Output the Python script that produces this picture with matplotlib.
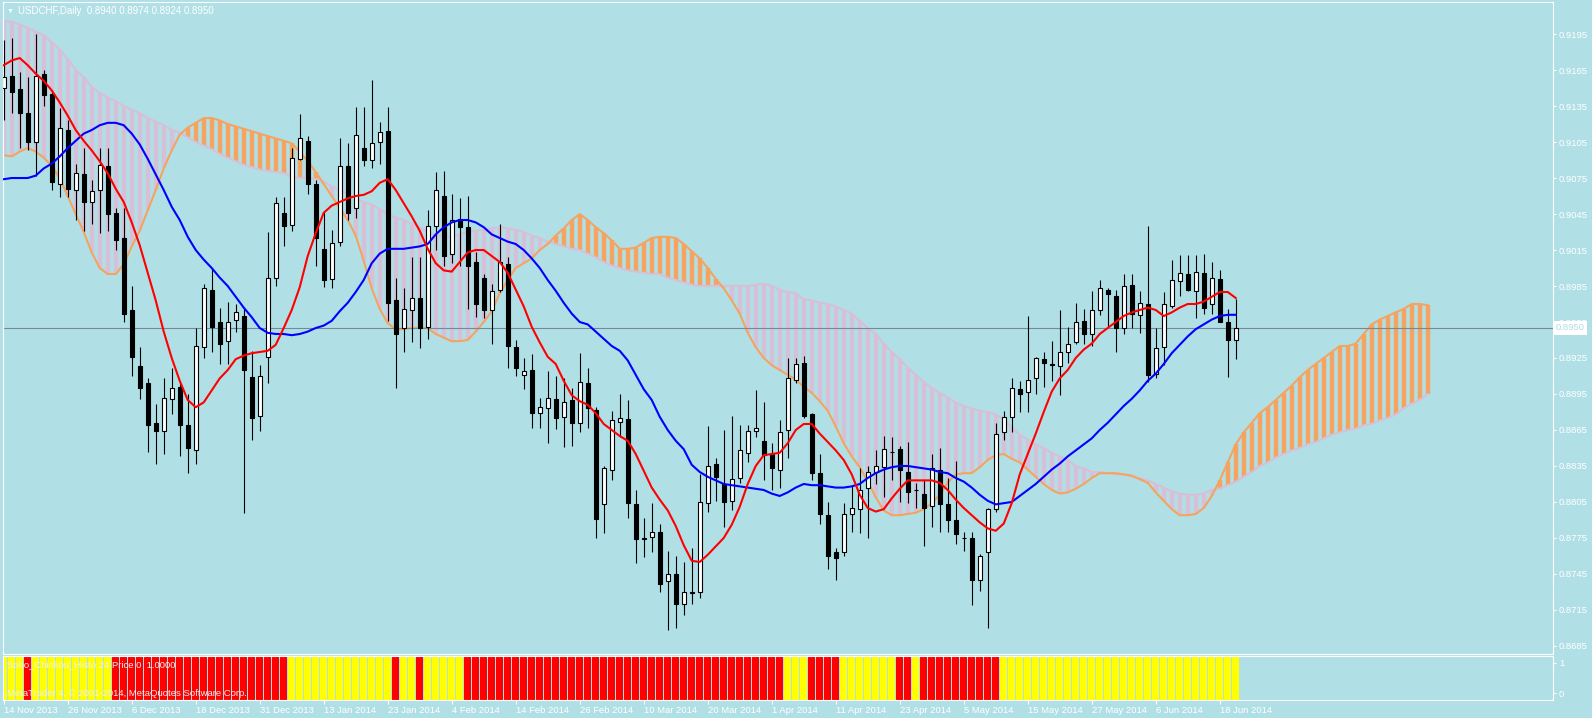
import numpy as np
import matplotlib.pyplot as plt
from matplotlib.transforms import blended_transform_factory

plt.rcParams['font.family'] = ['Liberation Sans', 'DejaVu Sans']

# USDCHF daily, prices in points (1 pt = 0.0001)
open_pts = [
    9150, 9160, 9149, 9129, 9105, 9162, 9145, 9070, 9115, 9065,
    9078, 9055, 9065, 9085, 9046, 9025, 8965, 8918, 8904, 8871,
    8864, 8891, 8901, 8869, 8848, 8934, 8982, 8955, 8939, 8957,
    8960, 8909, 8877, 8926, 8992, 9046, 9036, 9091, 9106, 9070,
    9016, 8991, 9022, 9085, 9050, 9100, 9090, 9105, 9114, 8973,
    8950, 8965, 8975, 8951, 9035, 9060, 9012, 9041, 9034, 9005,
    8992, 8965, 8982, 9003, 8934, 8911, 8915, 8879, 8883, 8891,
    8876, 8890, 8871, 8904, 8882, 8803, 8832, 8872, 8874, 8803,
    8774, 8776, 8780, 8739, 8745, 8720, 8730, 8730, 8804, 8837,
    8820, 8806, 8825, 8846, 8864, 8856, 8845, 8832, 8865, 8907,
    8921, 8878, 8829, 8794, 8763, 8763, 8795, 8799, 8817, 8830,
    8834, 8847, 8849, 8830, 8815, 8812, 8802, 8832, 8803, 8790,
    8775, 8775, 8740, 8763, 8799, 8863, 8876, 8899, 8897, 8908,
    8924, 8920, 8918, 8930, 8938, 8956, 8945, 8965, 8982, 8977,
    8950, 8986, 8961, 8970, 8912, 8934, 8968, 8989, 8995, 8981,
    8996, 8970, 8991, 8955, 8940]
high_pts = [
    9190, 9192, 9163, 9159, 9195, 9165, 9148, 9133, 9123, 9087,
    9100, 9073, 9100, 9100, 9050, 9050, 8985, 8934, 8908, 8887,
    8908, 8917, 8906, 8895, 8950, 8987, 9000, 8967, 8972, 8970,
    8967, 8931, 8919, 9030, 9059, 9059, 9100, 9128, 9110, 9073,
    9047, 9032, 9108, 9104, 9134, 9134, 9157, 9122, 9134, 8992,
    8983, 9009, 9009, 9048, 9080, 9081, 9062, 9058, 9060, 9013,
    8995, 8987, 9037, 9009, 8940, 8925, 8928, 8892, 8914, 8910,
    8908, 8900, 8929, 8917, 8884, 8835, 8881, 8895, 8890, 8815,
    8792, 8804, 8787, 8764, 8760, 8755, 8767, 8828, 8868, 8842,
    8865, 8877, 8869, 8869, 8898, 8888, 8854, 8873, 8925, 8925,
    8927, 8879, 8845, 8805, 8767, 8804, 8819, 8833, 8835, 8848,
    8860, 8859, 8852, 8855, 8821, 8823, 8845, 8850, 8825, 8839,
    8780, 8780, 8762, 8800, 8871, 8881, 8908, 8906, 8960, 8926,
    8930, 8939, 8965, 8951, 8971, 8966, 8981, 8990, 8983, 8982,
    8995, 8995, 8981, 9035, 8950, 8980, 9007, 9011, 9011, 9011,
    9012, 9005, 8998, 8966, 8974]
low_pts = [
    9123, 9129, 9100, 9098, 9077, 9135, 9065, 9059, 9059, 9040,
    9031, 9037, 9029, 9031, 9015, 8955, 8910, 8891, 8847, 8837,
    8845, 8878, 8843, 8829, 8837, 8925, 8930, 8920, 8920, 8947,
    8796, 8857, 8864, 8904, 8985, 9018, 9031, 9090, 9062, 9002,
    8984, 8983, 9018, 9040, 9042, 9085, 9083, 9087, 8956, 8900,
    8930, 8938, 8933, 8941, 9015, 9002, 9004, 9002, 8966, 8959,
    8958, 8937, 8980, 8917, 8910, 8899, 8867, 8867, 8854, 8866,
    8851, 8852, 8863, 8867, 8775, 8779, 8823, 8859, 8792, 8754,
    8759, 8763, 8730, 8698, 8700, 8711, 8720, 8725, 8797, 8806,
    8784, 8798, 8821, 8838, 8859, 8823, 8815, 8817, 8842, 8904,
    8875, 8823, 8787, 8749, 8740, 8760, 8780, 8779, 8775, 8820,
    8809, 8823, 8805, 8804, 8800, 8768, 8784, 8780, 8780, 8770,
    8764, 8719, 8731, 8700, 8797, 8857, 8863, 8880, 8880, 8895,
    8901, 8906, 8894, 8921, 8937, 8937, 8935, 8961, 8952, 8930,
    8945, 8950, 8946, 8905, 8908, 8919, 8967, 8977, 8981, 8958,
    8962, 8962, 8955, 8909, 8924]
close_pts = [
    9159, 9147, 9129, 9105, 9160, 9144, 9072, 9117, 9066, 9079,
    9055, 9064, 9086, 9045, 9023, 8962, 8926, 8900, 8869, 8864,
    8892, 8900, 8869, 8850, 8935, 8983, 8951, 8937, 8955, 8963,
    8915, 8875, 8910, 8992, 9054, 9035, 9092, 9108, 9070, 9025,
    8990, 9021, 9085, 9046, 9111, 9090, 9104, 9113, 8971, 8945,
    8966, 8975, 8950, 9035, 9065, 9010, 9040, 9034, 9002, 8970,
    8965, 8981, 9005, 8935, 8917, 8914, 8879, 8884, 8892, 8875,
    8888, 8871, 8905, 8883, 8791, 8833, 8873, 8875, 8804, 8774,
    8775, 8780, 8737, 8745, 8720, 8730, 8729, 8805, 8835, 8826,
    8805, 8824, 8848, 8864, 8867, 8844, 8833, 8863, 8908, 8920,
    8877, 8829, 8795, 8760, 8758, 8795, 8800, 8815, 8830, 8835,
    8849, 8847, 8832, 8813, 8815, 8800, 8833, 8803, 8790, 8778,
    8775, 8740, 8760, 8799, 8862, 8876, 8900, 8895, 8907, 8925,
    8921, 8919, 8930, 8937, 8955, 8945, 8965, 8983, 8978, 8950,
    8985, 8962, 8971, 8911, 8933, 8970, 8990, 8996, 8982, 8997,
    8967, 8992, 8955, 8940, 8950]

# Ichimoku lines (points)
tenkan_pts = [
    9169, 9173, 9175, 9169, 9162, 9156, 9148, 9138, 9127, 9115,
    9106, 9098, 9089, 9079, 9066, 9055, 9038, 9019, 8996, 8973,
    8947, 8925, 8906, 8890, 8884, 8888, 8898, 8908, 8915, 8924,
    8927, 8929, 8930, 8931, 8936, 8950, 8965, 8984, 9010, 9029,
    9046, 9052, 9055, 9058, 9060, 9061, 9064, 9071, 9074, 9065,
    9054, 9043, 9031, 9016, 9004, 8998, 8997, 9005, 9013, 9015,
    9015, 9010, 9005, 8996, 8982, 8968, 8951, 8938, 8926, 8920,
    8906, 8894, 8889, 8886, 8879, 8870, 8865, 8860, 8856, 8845,
    8831, 8817, 8807, 8798, 8785, 8769, 8756, 8755, 8761, 8768,
    8775, 8786, 8801, 8820, 8835, 8844, 8845, 8846, 8854, 8865,
    8870, 8870, 8862, 8855, 8848, 8840, 8828, 8811, 8800, 8797,
    8799, 8808, 8816, 8823, 8823, 8823, 8823, 8821, 8815, 8807,
    8800, 8794, 8788, 8783, 8781, 8787, 8804, 8828, 8845, 8862,
    8880, 8897, 8908, 8915, 8925, 8932, 8937, 8945, 8950, 8955,
    8960, 8963, 8965, 8967, 8965, 8960, 8963, 8967, 8970, 8970,
    8972, 8976, 8980, 8980, 8975]
kijun_pts = [
    9074, 9075, 9075, 9075, 9077, 9083, 9087, 9093, 9100, 9106,
    9112, 9115, 9119, 9121, 9121, 9119, 9112, 9103, 9091, 9078,
    9065, 9051, 9040, 9026, 9015, 9007, 9000, 8992, 8985, 8976,
    8967, 8959, 8950, 8946, 8945, 8945, 8944, 8945, 8947, 8950,
    8952, 8956, 8964, 8971, 8980, 8990, 9004, 9012, 9016, 9016,
    9016, 9017, 9018, 9020, 9028, 9034, 9038, 9040, 9040, 9038,
    9034, 9028, 9025, 9022, 9020, 9015, 9008, 9000, 8990, 8981,
    8971, 8962, 8955, 8953, 8947, 8941, 8935, 8931, 8923, 8911,
    8899, 8890, 8876, 8865, 8856, 8849, 8836, 8830, 8826, 8823,
    8820, 8819, 8818, 8817, 8816, 8815, 8812, 8810, 8813, 8817,
    8820, 8819, 8819, 8818, 8817, 8817, 8818, 8820, 8825, 8829,
    8832, 8834, 8835, 8835, 8834, 8833, 8832, 8830, 8829, 8825,
    8822, 8817, 8811, 8806, 8803, 8804, 8805, 8810, 8815, 8820,
    8826, 8832, 8837, 8843, 8848, 8853, 8858, 8865, 8871, 8878,
    8885, 8891, 8898, 8906, 8912, 8920, 8929, 8936, 8943, 8949,
    8953, 8957, 8960, 8961, 8961]
# senkou spans run 24 bars past the last candle
span_a_pts = [
    9094, 9093, 9097, 9100, 9097, 9092, 9085, 9075, 9060, 9045,
    9030, 9013, 9000, 8995, 8995, 9003, 9018, 9031, 9048, 9065,
    9083, 9098, 9111, 9117, 9121, 9125, 9125, 9123, 9120, 9118,
    9116, 9114, 9112, 9110, 9108, 9106, 9104, 9097, 9089, 9080,
    9070, 9060, 9050, 9040, 9027, 9006, 8983, 8966, 8954, 8949,
    8949, 8950, 8950, 8950, 8945, 8942, 8939, 8939, 8940, 8947,
    8955, 8964, 8979, 8990, 9000, 9004, 9008, 9015, 9020, 9027,
    9033, 9040, 9045, 9040, 9034, 9029, 9023, 9016, 9016, 9017,
    9021, 9025, 9026, 9026, 9025, 9020, 9014, 9008, 9000, 8991,
    8983, 8973, 8962, 8946, 8934, 8925, 8919, 8915, 8911, 8907,
    8901, 8896, 8889, 8881, 8868, 8854, 8843, 8834, 8822, 8809,
    8798, 8794, 8794, 8795, 8796, 8799, 8804, 8811, 8821, 8828,
    8829, 8829, 8834, 8840, 8844, 8845, 8841, 8838, 8832, 8826,
    8820, 8815, 8812, 8813, 8816, 8820, 8825, 8829, 8829, 8829,
    8828, 8827, 8824, 8821, 8813, 8806, 8799, 8794, 8794, 8795,
    8800, 8810, 8823, 8838, 8853, 8863, 8871, 8879, 8884, 8890,
    8896, 8902, 8909, 8915, 8920, 8925, 8930, 8935, 8935, 8937,
    8945, 8953, 8957, 8960, 8963, 8966, 8970, 8970, 8969]
span_b_pts = [
    9206, 9205, 9203, 9200, 9197, 9194, 9188, 9182, 9174, 9165,
    9159, 9151, 9146, 9142, 9139, 9135, 9132, 9129, 9125, 9122,
    9119, 9115, 9113, 9109, 9105, 9102, 9099, 9095, 9092, 9089,
    9086, 9084, 9082, 9081, 9080, 9079, 9076, 9075, 9075, 9074,
    9072, 9068, 9065, 9062, 9058, 9055, 9053, 9049, 9045, 9042,
    9040, 9037, 9034, 9030, 9028, 9026, 9026, 9028, 9030, 9031,
    9032, 9033, 9034, 9033, 9032, 9030, 9027, 9025, 9022, 9020,
    9018, 9016, 9015, 9012, 9009, 9005, 9002, 9000, 8998, 8997,
    8996, 8995, 8995, 8992, 8990, 8988, 8986, 8985, 8985, 8985,
    8985, 8985, 8985, 8985, 8986, 8987, 8985, 8982, 8980, 8979,
    8974, 8973, 8971, 8970, 8968, 8965, 8962, 8956, 8950, 8945,
    8937, 8930, 8924, 8917, 8911, 8905, 8900, 8896, 8892, 8888,
    8885, 8883, 8881, 8880, 8878, 8874, 8867, 8861, 8857, 8853,
    8850, 8846, 8843, 8840, 8835, 8833, 8830, 8830, 8829, 8828,
    8828, 8826, 8825, 8823, 8820, 8817, 8814, 8812, 8811, 8811,
    8812, 8815, 8816, 8819, 8822, 8826, 8830, 8835, 8838, 8842,
    8845, 8848, 8850, 8853, 8855, 8858, 8861, 8863, 8865, 8866,
    8869, 8870, 8873, 8875, 8878, 8883, 8887, 8890, 8895]

# Soho_Chinkou_Histo: 1 = yellow, 0 = red
chinkou_state = [
    1, 1, 1, 0, 1, 1, 1, 1, 1, 1,
    1, 1, 1, 1, 0, 0, 0, 0, 0, 0,
    0, 0, 0, 0, 0, 0, 0, 0, 0, 0,
    0, 0, 0, 0, 0, 0, 1, 1, 1, 1,
    1, 1, 1, 1, 1, 1, 1, 1, 1, 0,
    1, 1, 0, 1, 1, 1, 1, 1, 0, 0,
    0, 0, 0, 0, 0, 0, 0, 0, 0, 0,
    0, 0, 0, 0, 0, 0, 0, 0, 0, 0,
    0, 0, 0, 0, 0, 0, 0, 0, 0, 0,
    0, 0, 0, 0, 0, 0, 0, 0, 1, 1,
    1, 0, 0, 0, 0, 1, 1, 1, 1, 1,
    1, 1, 0, 0, 1, 0, 0, 0, 0, 0,
    0, 0, 0, 0, 0, 1, 1, 1, 1, 1,
    1, 1, 1, 1, 1, 1, 1, 1, 1, 1,
    1, 1, 1, 1, 1, 1, 1, 1, 1, 1,
    1, 1, 1, 1, 1]

date_idx = [0, 8, 16, 24, 32, 40, 48, 56, 64, 72, 80, 88, 96, 104, 112,
            120, 128, 136, 144, 152]
date_labels = ['14 Nov 2013', '26 Nov 2013', '6 Dec 2013', '18 Dec 2013',
               '31 Dec 2013', '13 Jan 2014', '23 Jan 2014', '4 Feb 2014',
               '14 Feb 2014', '26 Feb 2014', '10 Mar 2014', '20 Mar 2014',
               '1 Apr 2014', '11 Apr 2014', '23 Apr 2014', '5 May 2014',
               '15 May 2014', '27 May 2014', '6 Jun 2014', '18 Jun 2014']
price_ticks = [0.9195, 0.9165, 0.9135, 0.9105, 0.9075, 0.9045, 0.9015,
               0.8985, 0.8955, 0.8925, 0.8895, 0.8865, 0.8835, 0.8805,
               0.8775, 0.8745, 0.8715, 0.8685]

opens = np.array(open_pts) / 10000
highs = np.array(high_pts) / 10000
lows = np.array(low_pts) / 10000
closes = np.array(close_pts) / 10000
tenkan = np.array(tenkan_pts) / 10000
kijun = np.array(kijun_pts) / 10000
span_a = np.array(span_a_pts) / 10000
span_b = np.array(span_b_pts) / 10000

# colours
BG = '#B0E0E6'
SANDY = '#F4A460'
THISTLE = '#D8BFD8'
FS = 6.8

W, H = 1592, 718
fig = plt.figure(figsize=(W / 100, H / 100), dpi=100, facecolor=BG)
ax = fig.add_axes([3 / W, 1 - 654 / H, 1549.7 / W, 652 / H])
ax2 = fig.add_axes([3 / W, 1 - 700 / H, 1549.7 / W, 44 / H])

XLIM = (-0.09, 193.62)

# --- main chart ---
ax.set_facecolor(BG)
cx = np.arange(len(span_a))
stripe_cols = [SANDY if a > b else THISTLE for a, b in zip(span_a, span_b)]
ax.vlines(cx, np.minimum(span_a, span_b), np.maximum(span_a, span_b),
          colors=stripe_cols, lw=3.2, zorder=1)
ax.plot(cx, span_b, color=THISTLE, lw=1.5, zorder=2)
ax.plot(cx, span_a, color=SANDY, lw=1.5, zorder=2)

ax.axhline(closes[-1], color='#778899', lw=0.8, zorder=2.5)

x = np.arange(len(opens))
ax.vlines(x, lows, highs, color='black', lw=0.8, zorder=3)
up = closes >= opens
ax.bar(x, np.abs(closes - opens), bottom=np.minimum(opens, closes),
       width=0.5, color=np.where(up, 'white', 'black'),
       edgecolor='black', linewidth=0.8, zorder=3.5)

ax.plot(x, kijun, color='blue', lw=1.5, zorder=4)
ax.plot(x, tenkan, color='red', lw=1.5, zorder=4)

ax.set_xlim(*XLIM)
ax.set_ylim(0.86783, 0.92217)
ax.set_xticks([])
ax.yaxis.tick_right()
ax.set_yticks(price_ticks)
ax.set_yticklabels([f'{t:.4f}' for t in price_ticks])
ax.tick_params(axis='y', colors='white', length=2, width=0.8, pad=2.5,
               labelsize=FS)
for s in ax.spines.values():
    s.set_color('white')
    s.set_linewidth(0.8)

# current price tag on the axis
trans = blended_transform_factory(ax.transAxes, ax.transData)
ax.text(1.0021, closes[-1], f'{closes[-1]:.4f}', transform=trans,
        ha='left', va='center', fontsize=FS, color=BG, clip_on=False,
        bbox=dict(boxstyle='square,pad=0.25', fc='white', ec='none'),
        zorder=10)

# --- chinkou histogram panel ---
HIST_LO, HIST_HI = -0.233, 1.233
ax2.set_facecolor(BG)
hist_cols = ['#FFFF00' if v else '#FF0000' for v in chinkou_state]
ax2.bar(x, HIST_HI - HIST_LO, bottom=HIST_LO, width=0.875,
        color=hist_cols, linewidth=0)
ax2.set_xlim(*XLIM)
ax2.set_ylim(HIST_LO, HIST_HI)
ax2.yaxis.tick_right()
ax2.set_yticks([0, 1])
ax2.set_yticklabels(['0', '1'])
ax2.set_xticks(date_idx)
ax2.set_xticklabels(date_labels, ha='left')
ax2.tick_params(axis='y', colors='white', length=2, width=0.8, pad=2.5,
                labelsize=FS)
ax2.tick_params(axis='x', colors='white', length=3, width=0.8, pad=1.5,
                labelsize=FS)
for s in ax2.spines.values():
    s.set_color('white')
    s.set_linewidth(0.8)

# --- texts ---
fig.text(7 / W, 1 - 11 / H, '\u25bc', fontsize=5, color='white', va='center')
fig.text(18 / W, 1 - 11 / H,
         f'USDCHF,Daily  {opens[-1]:.4f} {highs[-1]:.4f} '
         f'{lows[-1]:.4f} {closes[-1]:.4f}',
         fontsize=7, color='white', va='center')
fig.text(7 / W, 1 - 665 / H, 'Soho_Chinkou_Histo 24 Price 0  1.0000',
         fontsize=FS, color='#F0F0F0', va='center')
fig.text(7 / W, 1 - 693 / H,
         'MetaTrader 4, \u00a9 2001-2014, MetaQuotes Software Corp.',
         fontsize=FS, color='#F0F0F0', va='center')

fig.savefig('out.png', dpi=100, facecolor=BG)
